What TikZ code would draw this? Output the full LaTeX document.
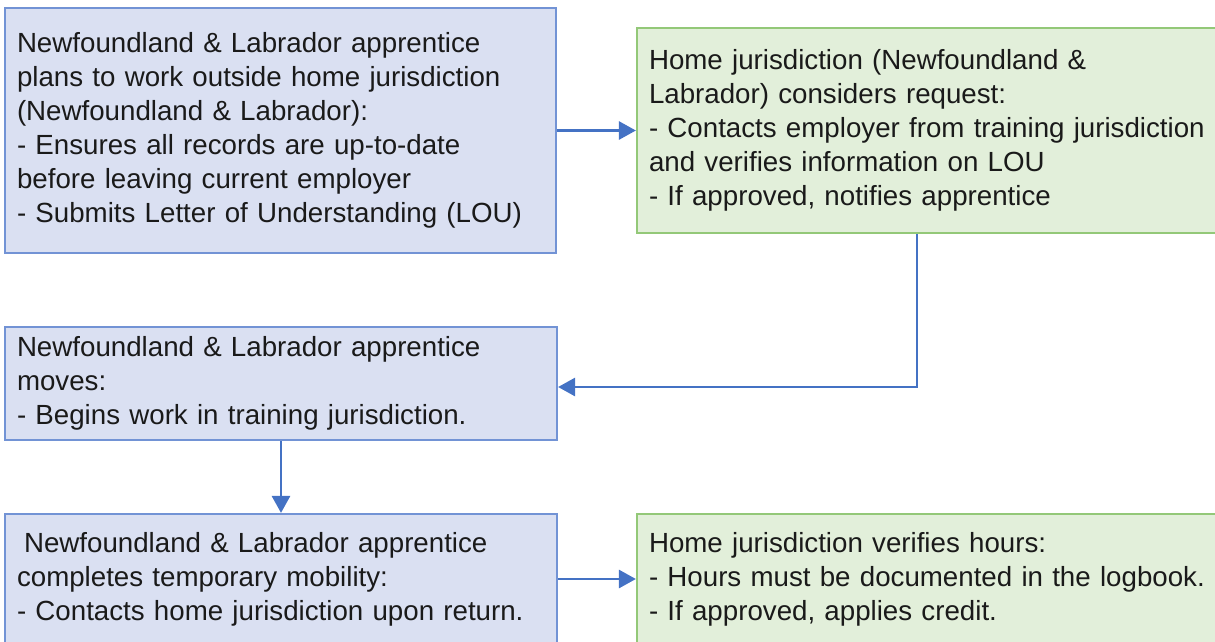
\documentclass[tikz,border=0pt]{standalone}
\usepackage{fontspec}
\setmainfont{Liberation Sans}
\usepackage{tikz}
\usetikzlibrary{arrows.meta, positioning}
\usepackage{xcolor}
\definecolor{boxblue}{HTML}{7293D5}
\definecolor{fillblue}{HTML}{DAE0F2}
\definecolor{boxgreen}{HTML}{93C878}
\definecolor{fillgreen}{HTML}{E2EFDA}
\definecolor{linkblue}{HTML}{4472C4}
\definecolor{txt}{HTML}{1A1A1A}

\begin{document}
\begin{tikzpicture}[
    x=1pt, y=-1pt,
    box/.style={line width=2.2pt, inner xsep=12pt, inner ysep=0pt, align=left,
                text=txt, font=\fontsize{27.7}{34}\selectfont},
    bluebox/.style={box, draw=boxblue, fill=fillblue},
    greenbox/.style={box, draw=boxgreen, fill=fillgreen},
    link/.style={draw=linkblue, line width=2.8pt,
                 -{Triangle[length=17pt, width=18pt]}},
]
  \useasboundingbox (0,0) rectangle (1215,641);

  % ---- Apprentice side (blue) ----
  \node[bluebox, text width=527pt, minimum height=245pt] (plans) at (280.5,130.5)
    {Newfoundland \& Labrador apprentice\\plans to work outside home jurisdiction\\(Newfoundland \& Labrador):\\- Ensures all records are up-to-date\\before leaving current employer\\- Submits Letter of Understanding (LOU)};

  \node[bluebox, text width=528pt, minimum height=113pt] (moves) at (281,383.5)
    {Newfoundland \& Labrador apprentice\\moves:\\- Begins work in training jurisdiction.};

  \node[bluebox, text width=528pt, minimum height=130pt] (done) at (281,579)
    {\hspace*{7pt}Newfoundland \& Labrador apprentice\\completes temporary mobility:\\- Contacts home jurisdiction upon return.};

  % ---- Home jurisdiction side (green) ----
  \node[greenbox, text width=579pt, minimum height=205pt] (request) at (938.5,130.5)
    {Home jurisdiction (Newfoundland \&\\Labrador) considers request:\\- Contacts employer from training jurisdiction\\and verifies information on LOU\\- If approved, notifies apprentice};

  \node[greenbox, text width=579pt, minimum height=130pt] (credit) at (938.5,579)
    {Home jurisdiction verifies hours:\\- Hours must be documented in the logbook.\\- If approved, applies credit.};

  % ---- Links ----
  \draw[link] (plans) -- (request);
  \draw[link] ([xshift=-21.5pt]request.south) |- ([yshift=-3.5pt]moves.east);
  \draw[link] (moves) -- (done);
  \draw[link] (done) -- (credit);

\end{tikzpicture}
\end{document}
